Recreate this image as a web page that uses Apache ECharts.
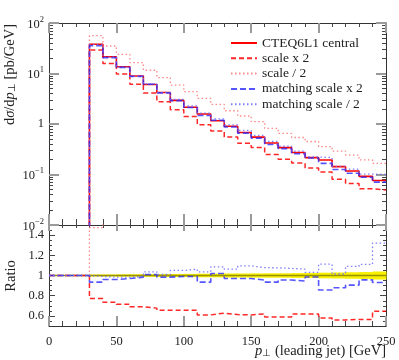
<!DOCTYPE html>
<html>
<head>
<meta charset="utf-8">
<script src="https://cdn.jsdelivr.net/npm/echarts@6/dist/echarts.min.js"></script>
<style>
html, body { margin: 0; padding: 0; background: #fff; }
#chart { width: 399px; height: 360px; }
</style>
</head>
<body>
<div id="chart"></div>
<script>
// bins of leading jet pT, lower edges in GeV, all 10 wide
var binLow = [30, 40, 50, 60, 70, 80, 90, 100, 110, 120, 130, 140, 150, 160, 170, 180, 190, 200, 210, 220, 230, 240];
var binWidth = 10;

// top panel, dsigma/dpT [pb/GeV]
var central = [38, 21.5, 13.6, 8.9, 6.05, 4.2, 2.93, 2.14, 1.58, 1.16, 0.9, 0.68, 0.55, 0.42, 0.34, 0.272, 0.216, 0.194, 0.143, 0.117, 0.092, 0.076];
var scaleHalf = [56, 35, 24, 16.4, 11.6, 8.3, 5.9, 4.37, 3.23, 2.45, 1.83, 1.44, 1.11, 0.82, 0.65, 0.54, 0.45, 0.355, 0.29, 0.243, 0.194, 0.166];

// ratio panel, variation / central
var ratioScaleX2 = [0.772, 0.736, 0.716, 0.69, 0.677, 0.657, 0.657, 0.657, 0.61, 0.627, 0.613, 0.61, 0.62, 0.59, 0.59, 0.62, 0.62, 0.58, 0.56, 0.565, 0.565, 0.647];
var ratioMatchX2 = [0.934, 0.96, 0.97, 0.984, 1.01, 0.984, 0.99, 0.99, 0.934, 1.02, 0.97, 0.97, 0.955, 0.934, 0.955, 0.945, 0.985, 0.857, 0.878, 0.905, 0.957, 0.93];
var ratioMatchHalf = [0.99, 0.984, 0.984, 0.99, 1.036, 1.01, 1.05, 1.063, 1.036, 1.086, 1.063, 1.095, 1.078, 1.076, 1.07, 1.063, 1.03, 1.113, 1.015, 1.09, 1.11, 1.32];
// half width of the yellow band around 1
var centralErr = [0.01, 0.01, 0.012, 0.012, 0.013, 0.014, 0.015, 0.016, 0.018, 0.018, 0.02, 0.02, 0.021, 0.022, 0.022, 0.024, 0.025, 0.028, 0.03, 0.032, 0.034, 0.04];

var names = ["CTEQ6L1 central", "scale x 2", "scale / 2", "matching scale x 2", "matching scale / 2"];
var logTicks = [0.01, 0.1, 1, 10, 100];
var ratioTicks = [0.6, 0.8, 1, 1.2, 1.4];

var FONT = "Liberation Serif";

// minor ticks 2..9 per decade
var logMinor = [];
[0.01, 0.1, 1, 10].forEach(function (d) {
  for (var k = 2; k <= 9; k++) logMinor.push(+(d * k).toPrecision(3));
});
var ratioMinor = [];
for (var r = 0.55; r < 1.5; r += 0.05) ratioMinor.push(+r.toFixed(2));

function times(a, b) { return a.map(function (v, i) { return v * b[i]; }); }
function over(a, b) { return a.map(function (v, i) { return v / b[i]; }); }

// step histogram points, starting from "floor" at x=0
function histo(vals, floor) {
  var pts = [[0, floor]];
  binLow.forEach(function (x, i) { pts.push([x, vals[i]]); });
  pts.push([binLow[binLow.length - 1] + binWidth, vals[vals.length - 1]]);
  return pts;
}

var styles = [
  { color: "#ff0000", type: "solid", width: 1.6, opacity: 1 },
  { color: "#ff0000", type: [5, 3], width: 1.5, opacity: 0.85 },
  { color: "#ff6a6a", type: [1.5, 2.5], width: 1.3, opacity: 0.8 },
  { color: "#2a2aff", type: [6, 3], width: 1.6, opacity: 0.8 },
  { color: "#6a6aff", type: [1.5, 2.5], width: 1.3, opacity: 0.85 }
];

var topVals = [central, times(central, ratioScaleX2), scaleHalf, times(central, ratioMatchX2), times(central, ratioMatchHalf)];
var ratioVals = [null, ratioScaleX2, over(scaleHalf, central), ratioMatchX2, ratioMatchHalf];

function line(name, data, xi, yi, st, z) {
  return {
    name: name, type: "line", xAxisIndex: xi, yAxisIndex: yi, data: data,
    step: "end", symbol: "none", showSymbol: false, clip: true, silent: true,
    lineStyle: { color: st.color, type: st.type, width: st.width, opacity: st.opacity },
    itemStyle: { color: st.color }, z: z
  };
}

var series = [];
topVals.forEach(function (v, i) {
  series.push(line(names[i], histo(v, 1e-5), 0, 0, styles[i], 3 + i));
});

// yellow band
series.push({
  type: "custom", xAxisIndex: 2, yAxisIndex: 4, silent: true, z: 2,
  data: binLow.map(function (x, i) { return [x, x + binWidth, 1 - centralErr[i], 1 + centralErr[i]]; }),
  encode: { x: [0, 1], y: [2, 3] },
  renderItem: function (params, api) {
    var p1 = api.coord([api.value(0), api.value(3)]);
    var p2 = api.coord([api.value(1), api.value(2)]);
    return {
      type: "rect",
      shape: { x: p1[0], y: p1[1], width: p2[0] - p1[0] + 0.5, height: p2[1] - p1[1] },
      style: { fill: "#f7f000" }
    };
  }
});
series.push(line("ref", histo(binLow.map(function () { return 1; }), 1), 2, 4,
  { color: "#9a9200", type: "solid", width: 1.3, opacity: 1 }, 3));
ratioVals.forEach(function (v, i) {
  if (v) series.push(line(names[i], histo(v, 1), 2, 4, styles[i], 4 + i));
});

function xAxis(grid, pos, major, minor, labels) {
  return {
    type: "value", gridIndex: grid, position: pos, min: 0, max: 250, interval: 50,
    axisLine: { show: true, onZero: false, lineStyle: { color: "#333", width: 1 } },
    axisTick: { show: true, inside: true, length: major, lineStyle: { color: "#9a9a9a", width: 2 } },
    minorTick: { show: true, splitNumber: 5, length: minor, lineStyle: { color: "#444", width: 1 } },
    splitLine: { show: false },
    axisLabel: { show: labels, margin: 9, color: "#222", fontFamily: FONT, fontSize: 12.5 }
  };
}

function logAxis(pos, minor, labels) {
  return {
    type: "log", logBase: 10, gridIndex: 0, position: pos, min: 0.01, max: 100,
    axisLine: { show: !minor, onZero: false, lineStyle: { color: "#333", width: 1 } },
    axisTick: minor
      ? { show: true, inside: true, length: 4, customValues: logMinor, lineStyle: { color: "#444", width: 1 } }
      : { show: true, inside: true, length: 10, customValues: logTicks, lineStyle: { color: "#9a9a9a", width: 2 } },
    splitLine: { show: false },
    axisLabel: {
      show: labels, customValues: logTicks, margin: 5, color: "#222", fontFamily: FONT, fontSize: 12.5,
      formatter: function (v) {
        var e = Math.round(Math.log10(v));
        if (e === 0) return "1";
        return "{b|10}{s|" + (e < 0 ? "\u2212" : "") + Math.abs(e) + "}";
      },
      rich: {
        b: { fontFamily: FONT, fontSize: 12.5, color: "#222", lineHeight: 16, verticalAlign: "bottom" },
        s: { fontFamily: FONT, fontSize: 8.5, color: "#222", lineHeight: 16, verticalAlign: "top" }
      }
    }
  };
}

function ratioAxis(pos, minor, labels) {
  return {
    type: "value", gridIndex: 1, position: pos, min: 0.5, max: 1.5,
    axisLine: { show: !minor, onZero: false, lineStyle: { color: "#333", width: 1 } },
    axisTick: {
      show: true, inside: true, length: minor ? 3 : 6, customValues: minor ? ratioMinor : ratioTicks,
      lineStyle: { color: "#444", width: 1 }
    },
    splitLine: { show: false },
    axisLabel: { show: labels, customValues: ratioTicks, margin: 5, color: "#222", fontFamily: FONT, fontSize: 12.5 }
  };
}

var titleRich = {
  i: { fontFamily: FONT, fontSize: 14.5, fontStyle: "italic", fill: "#222" },
  sub: { fontFamily: FONT, fontSize: 10, fill: "#222", verticalAlign: "bottom" }
};

var chart = echarts.init(document.getElementById("chart"));
chart.setOption({
  animation: false,
  backgroundColor: "#fff",
  grid: [
    { left: 49, right: 13, top: 23, height: 202 },
    { left: 49, right: 13, top: 225, height: 101 }
  ],
  xAxis: [
    xAxis(0, "bottom", 11, 6, false),
    xAxis(0, "top", 10, 4, false),
    xAxis(1, "bottom", 10, 5, true),
    xAxis(1, "top", 6, 3, false)
  ],
  yAxis: [
    logAxis("left", false, true),
    logAxis("left", true, false),
    logAxis("right", false, false),
    logAxis("right", true, false),
    ratioAxis("left", false, true),
    ratioAxis("left", true, false),
    ratioAxis("right", false, false),
    ratioAxis("right", true, false)
  ],
  legend: {
    data: names, orient: "vertical", left: 230, top: 36, padding: 0,
    itemWidth: 26, itemHeight: 10, itemGap: 1.3,
    itemStyle: { opacity: 0 },
    textStyle: { fontFamily: FONT, fontSize: 13.5, lineHeight: 14, color: "#222" }
  },
  graphic: [
    {
      type: "text", x: 10, y: 24, rotation: Math.PI / 2, silent: true,
      style: {
        text: "d{i|\u03c3}/d{i|p}{sub|\u22a5} [pb/GeV]", align: "right", verticalAlign: "middle",
        font: "14.5px '" + FONT + "'", fill: "#222", rich: titleRich
      }
    },
    {
      type: "text", x: 11, y: 276, rotation: Math.PI / 2, silent: true,
      style: { text: "Ratio", align: "center", verticalAlign: "middle", font: "14.5px '" + FONT + "'", fill: "#222" }
    },
    {
      type: "text", x: 386, y: 351, silent: true,
      style: {
        text: "{i|p}{sub|\u22a5} (leading jet) [GeV]", align: "right", verticalAlign: "middle",
        font: "14.5px '" + FONT + "'", fill: "#222", rich: titleRich
      }
    }
  ],
  series: series
});
</script>
</body>
</html>
